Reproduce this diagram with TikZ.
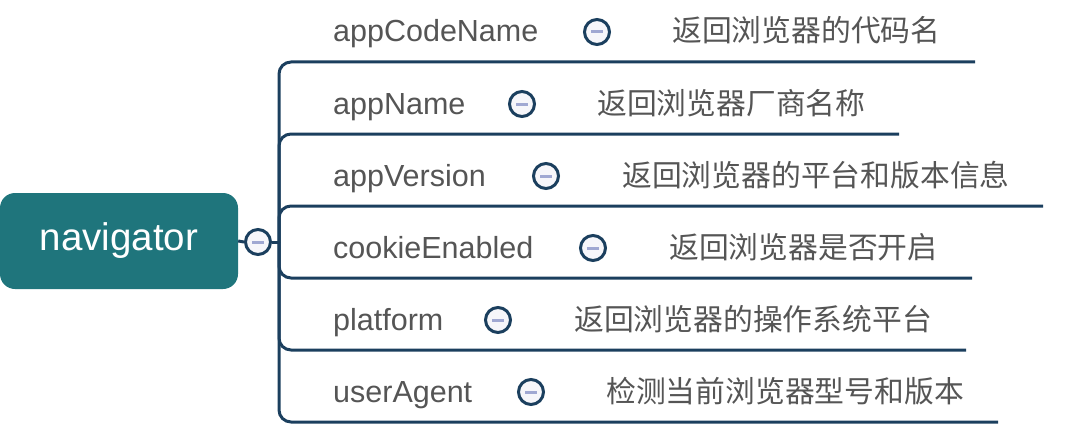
\documentclass[tikz,border=0pt]{standalone}
\usepackage{fontspec}
\setmainfont{Liberation Sans}
\newfontfamily\cjk{Noto Sans CJK SC}
\definecolor{teal1}{HTML}{1F757C}
\definecolor{navy}{HTML}{1B3F5E}
\definecolor{txt}{HTML}{555555}
\definecolor{minusc}{HTML}{A0A8D2}
\definecolor{cfill}{HTML}{F6F6FA}
\begin{document}
\begin{tikzpicture}[x=1pt,y=-1pt,
  rootbox/.style={rectangle, rounded corners=15pt, fill=teal1, minimum width=238pt, minimum height=96pt, inner sep=0pt, text=white, font=\fontsize{38.5}{44}\selectfont},
  lbl/.style={anchor=base west, inner sep=0pt, text=txt, font=\fontsize{30.5}{36}\selectfont},
  desc/.style={anchor=base west, inner sep=0pt, text=txt, font=\cjk\fontsize{29.8}{36}\selectfont},
  toggle/.style={circle, draw=navy, line width=3pt, fill=cfill, minimum size=25pt, inner sep=0pt,
    path picture={\draw[minusc, line width=3pt] ([xshift=-6pt]path picture bounding box.center) -- ([xshift=6pt]path picture bounding box.center);}},
  branch/.style={draw=navy, line width=3pt, rounded corners=12pt},
  link/.style={draw=navy, line width=3pt}]
\useasboundingbox (0,0) rectangle (1065,436);
\node[rootbox] (root) at (119,241) {navigator};
\node[toggle] (t0) at (258,242) {};
\coordinate (J) at (279,242);
\draw[link] (root.east) -- (t0.west);
\draw[link] (t0.east) -- (J);
\foreach \i/\lab/\cx/\dx/\ex/\d in {
  0/appCodeName/597/672/975/返回浏览器的代码名,
  1/appName/522/597/899/返回浏览器厂商名称,
  2/appVersion/546/622/1043/返回浏览器的平台和版本信息,
  3/cookieEnabled/593/669/972/返回浏览器是否开启,
  4/platform/498/574/966/返回浏览器的操作系统平台,
  5/userAgent/531/606/998/检测当前浏览器型号和版本} {
  \pgfmathsetmacro\ly{62+72*\i}
  \coordinate (e\i) at (\ex,\ly);
  \draw[branch] (J) |- (e\i);
  \node[lbl] (l\i) at (333,{\ly-20}) {\lab};
  \node[toggle] (c\i) at (\cx,{\ly-30}) {};
  \node[desc] (d\i) at (\dx,{\ly-20}) {\d};
}
\end{tikzpicture}
\end{document}
